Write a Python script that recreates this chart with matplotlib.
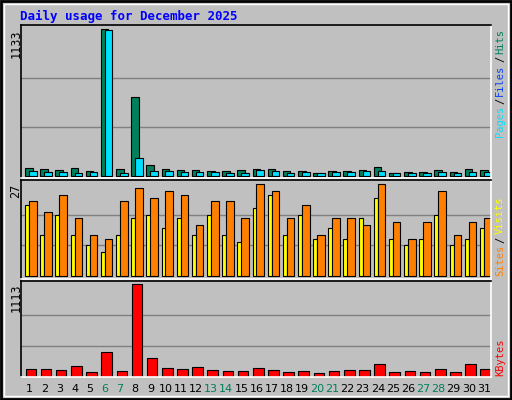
import matplotlib
matplotlib.use("Agg")
import matplotlib.pyplot as plt
from matplotlib.patches import Rectangle

days = list(range(1, 32))
hits = [64, 56, 49, 64, 41, 1133, 56, 610, 87, 56, 49, 49, 41, 41, 49, 56, 56, 41, 41, 26, 41, 41, 49, 72, 26, 33, 33, 49, 33, 56, 49]
pages = [41, 33, 33, 26, 33, 1125, 26, 141, 41, 41, 33, 33, 33, 26, 26, 49, 41, 26, 33, 26, 33, 33, 41, 41, 26, 26, 26, 33, 26, 33, 33]
sites = [21, 12, 18, 12, 9, 7, 12, 17, 18, 14, 17, 12, 18, 12, 10, 20, 24, 12, 18, 11, 14, 11, 17, 23, 11, 9, 11, 18, 9, 11, 14]
visits = [22, 19, 24, 17, 12, 11, 22, 26, 23, 25, 24, 15, 22, 22, 17, 27, 25, 17, 21, 12, 17, 17, 15, 27, 16, 11, 16, 25, 12, 16, 17]
kbytes = [89, 89, 77, 126, 53, 297, 65, 1113, 223, 102, 89, 114, 77, 65, 65, 102, 77, 53, 65, 41, 65, 77, 77, 150, 53, 65, 53, 89, 53, 150, 89]
weekend = [6, 7, 13, 14, 20, 21, 27, 28]

W, H = 512, 400
fig = plt.figure(figsize=(W/100, H/100), dpi=100, facecolor="#c0c0c0")
bg = fig.add_axes([0, 0, 1, 1]); bg.set_axis_off(); bg.set_xlim(0, W); bg.set_ylim(H, 0)
bg.add_patch(Rectangle((1, 1), W-2, H-2, fill=False, ec="black", lw=2))
bg.add_patch(Rectangle((4, 4), W-8, H-8, fill=False, ec="white", lw=1))

def ax_at(top, bot):
    ax = fig.add_axes([21/W, 1-bot/H, 470/W, (bot-top)/H], facecolor="#c0c0c0")
    ax.set_xlim(0.5, 31.5)
    ax.set_xticks([]); ax.set_yticks([])
    for s in ax.spines.values():
        s.set_color("black"); s.set_linewidth(1.2)
    ax.spines["right"].set_color("white"); ax.spines["bottom"].set_color("white")
    return ax

mono = "DejaVu Sans Mono"
ax1 = ax_at(25, 178)
m1 = max(hits)
ax1.set_ylim(-15, 1164)
for g in (m1/3, 2*m1/3):
    ax1.axhline(g, color="#808080", lw=1, zorder=0)
x = [d - 0.23 for d in days]
ax1.bar(x, hits, width=0.5, align="edge", color="#00805c", edgecolor="black", lw=0.8)
ax1.bar([d + 0.03 for d in days], pages, width=0.5, align="edge", color="#00e0ff", edgecolor="black", lw=0.8)

ax2 = ax_at(180, 279)
m2 = max(visits)
ax2.set_ylim(-0.9, 28.3)
for g in (9, 18):
    ax2.axhline(g, color="#808080", lw=1, zorder=0)
ax2.bar(x, sites, width=0.28, align="edge", color="#ffff00", edgecolor="black", lw=0.8)
ax2.bar([d + 0.03 for d in days], visits, width=0.5, align="edge", color="#ff8000", edgecolor="black", lw=0.8)

ax3 = ax_at(281, 377)
m3 = max(kbytes)
ax3.set_ylim(-4, 1146)
for g in (m3/3, 2*m3/3):
    ax3.axhline(g, color="#808080", lw=1, zorder=0)
ax3.bar([d - 0.2 for d in days], kbytes, width=0.7, align="edge", color="#ff0000", edgecolor="black", lw=0.8)

bg.text(20, 16, "Daily usage for December 2025", color="#0000ff", fontsize=9, fontweight="bold",
        family=mono, va="center", ha="left")
for ytop, val in ((29, m1), (184, m2), (284, m3)):
    bg.text(16, ytop, str(val), rotation=90, fontsize=8.5, family=mono, va="top", ha="center", color="black")

def vlegend(parts, ybot):
    y = ybot
    cw = 6.25
    for txt, col in parts:
        if txt == "/":
            y -= 2
        bg.text(500, y, txt, rotation=90, fontsize=7.5, family=mono, va="bottom", ha="center", color=col)
        y -= cw * len(txt)
        if txt == "/":
            y -= 2
vlegend([("Pages", "#00e0ff"), ("/", "#000000"), ("Files", "#0040ff"), ("/", "#000000"), ("Hits", "#00805c")], 137)
vlegend([("Sites", "#ff8000"), ("/", "#000000"), ("Visits", "#ffff00")], 276)
vlegend([("KBytes", "#ff0000")], 376)

for d in days:
    px = 21 + (d - 0.5) * 470 / 31 + 0.5
    bg.text(px, 389, str(d), fontsize=8, ha="center", va="center",
            color="#00805c" if d in weekend else "black")

fig.savefig("out.png", dpi=100, facecolor=fig.get_facecolor())
